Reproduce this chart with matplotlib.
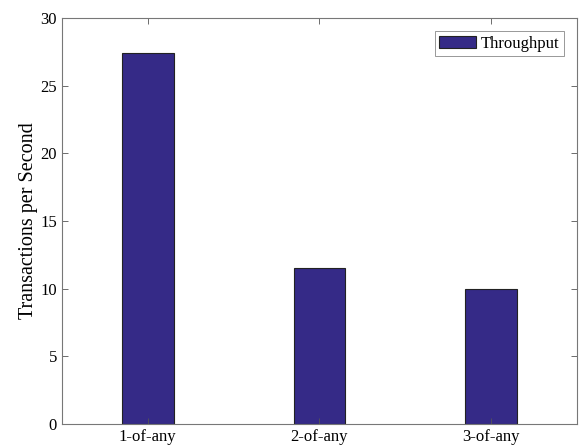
import matplotlib
matplotlib.use('Agg')
import matplotlib.pyplot as plt

plt.rcParams['font.family'] = ['Liberation Serif', 'DejaVu Serif']

categories = ['1-of-any', '2-of-any', '3-of-any']
throughput = [27.45, 11.55, 10.0]

fig = plt.figure(figsize=(5.84, 4.48), dpi=100)
ax = fig.add_axes([0.106, 0.0536, 0.882, 0.906])

pos = [1, 2, 3]
ax.bar(pos, throughput, width=0.3, color='#352A87', edgecolor='#222222',
       linewidth=0.8, label='Throughput')

ax.set_xlim(0.5, 3.5)
ax.set_ylim(0, 30)
ax.set_xticks(pos)
ax.set_xticklabels(categories)
ax.set_yticks(range(0, 31, 5))
ax.set_ylabel('Transactions per Second', fontsize=14.5, labelpad=2)

for s in ax.spines.values():
    s.set_color('#777777')
    s.set_linewidth(0.8)
ax.tick_params(direction='in', top=True, right=True, labelsize=12,
               color='#555555', length=4, width=0.6)

leg = ax.legend(loc='upper right', fontsize=12, fancybox=False,
                framealpha=1, borderaxespad=0.8, handlelength=2.2,
                borderpad=0.25, handletextpad=0.3)
leg.get_frame().set_edgecolor('#888888')
leg.get_frame().set_linewidth(0.6)

fig.savefig('out.png', dpi=100)
